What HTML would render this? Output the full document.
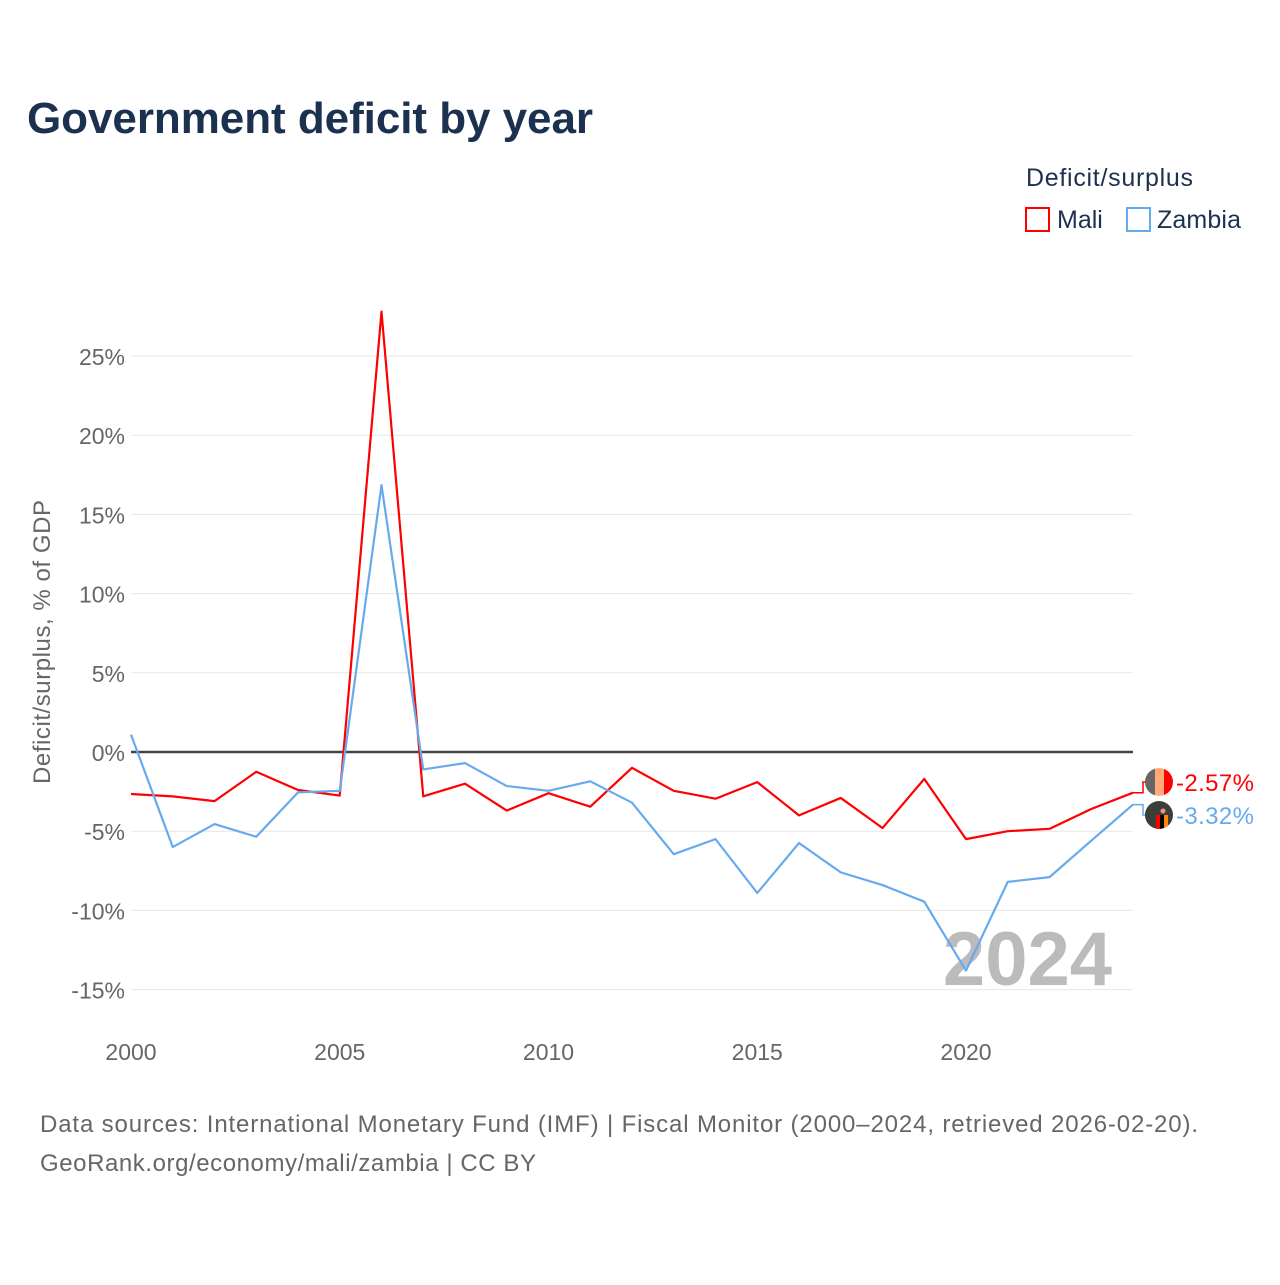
<!DOCTYPE html>
<html><head><meta charset="utf-8">
<style>
body{margin:0;background:#fff;font-family:"Liberation Sans",sans-serif}
svg text{font-family:"Liberation Sans",sans-serif}
</style></head><body>
<svg id="chart" width="1280" height="1280" viewBox="0 0 1280 1280" xmlns="http://www.w3.org/2000/svg">
<text x="27" y="133" font-size="44" font-weight="bold" fill="#1c3150" textLength="566">Government deficit by year</text>
<text x="1026" y="186" font-size="25" fill="#1c3150" textLength="167">Deficit/surplus</text>
<g><rect x="1026" y="208" width="23" height="23" fill="none" stroke="#ff0000" stroke-width="2"/><text x="1057" y="228" font-size="25" fill="#1c3150">Mali</text></g>
<g><rect x="1127" y="208" width="23" height="23" fill="none" stroke="#66aaee" stroke-width="2"/><text x="1157" y="228" font-size="25" fill="#1c3150" textLength="84">Zambia</text></g>
<text transform="translate(50,642) rotate(-90)" text-anchor="middle" font-size="24" fill="#666" textLength="284">Deficit/surplus, % of GDP</text>
<g id="grid"></g>
<text x="1112" y="985" text-anchor="end" font-size="76" font-weight="bold" fill="#bbbbbb">2024</text>
<g id="series"></g>
<g font-size="24" fill="#666">
<text x="40" y="1132" textLength="1158">Data sources: International Monetary Fund (IMF) | Fiscal Monitor (2000–2024, retrieved 2026-02-20).</text>
<text x="40" y="1171" textLength="496">GeoRank.org/economy/mali/zambia | CC BY</text>
</g>
</svg>
<script>
const years=[2000,2001,2002,2003,2004,2005,2006,2007,2008,2009,2010,2011,2012,2013,2014,2015,2016,2017,2018,2019,2020,2021,2022,2023,2024];
const mali=[-2.65,-2.8,-3.1,-1.25,-2.4,-2.75,27.8,-2.8,-2.0,-3.7,-2.6,-3.45,-1.0,-2.45,-2.95,-1.9,-4.0,-2.9,-4.8,-1.7,-5.5,-5.0,-4.85,-3.6,-2.57];
const zambia=[1.1,-6.0,-4.55,-5.35,-2.55,-2.45,16.85,-1.1,-0.7,-2.15,-2.45,-1.85,-3.2,-6.45,-5.5,-8.9,-5.75,-7.6,-8.4,-9.45,-13.8,-8.2,-7.9,-5.6,-3.32];
const yTicks=[-15,-10,-5,0,5,10,15,20,25];
const xTicks=[2000,2005,2010,2015,2020];
const NS="http://www.w3.org/2000/svg";
const X=y=>131+(y-2000)*(1133-131)/24;
const Y=v=>752-v*(752-356)/25;
const grid=document.getElementById('grid'),ser=document.getElementById('series');
function mk(tag,attrs,parent){const e=document.createElementNS(NS,tag);for(const k in attrs)e.setAttribute(k,attrs[k]);parent.appendChild(e);return e;}
yTicks.forEach(t=>{
  const l=mk('line',{x1:131,x2:1133,y1:Y(t),y2:Y(t),stroke:t===0?'#444':'#e6e6e6','stroke-width':t===0?2.5:1},grid);
  
  
  const tx=mk('text',{x:125,y:Y(t)+9,'text-anchor':'end','font-size':23,fill:'#666'},grid);
  
  
  tx.textContent=t+'%';
});
xTicks.forEach(t=>{
  const tx=mk('text',{x:X(t),y:1060,'text-anchor':'middle','font-size':23,fill:'#666'},grid);
  
  
  tx.textContent=t;
});
function line(vals,color,name){
  const p=mk('polyline',{points:vals.map((v,i)=>X(years[i])+','+Y(v)).join(' '),fill:'none',stroke:color,'stroke-width':2.2,'stroke-linejoin':'round'},ser);
  
  
}
line(mali,'#ff0000','mali-line');
line(zambia,'#66aaee','zambia-line');
const lm=mali[mali.length-1],lz=zambia[zambia.length-1];
const ym=782,yz=815,xe=X(2024);
function endLabel(v,ly,color,name,flag){
  const c=mk('polyline',{points:`${xe},${Y(v)} ${xe+10},${Y(v)} ${xe+10},${ly} ${xe+14},${ly}`,fill:'none',stroke:color,'stroke-width':1.5},ser);
  
  
  const g=mk('g',{},ser);
  
  
  flag(g,xe+26,ly);
  const t=mk('text',{x:xe+43,y:ly+9,'font-size':24,fill:color,textLength:78},ser);
  
  
  t.textContent=v.toFixed(2)+'%';
}
endLabel(lm,ym,'#ff0000','mali',(g,cx,cy)=>{
  mk('clipPath',{id:'cm'},g);
  mk('circle',{cx,cy,r:14},g.lastChild);
  const h=mk('g',{'clip-path':'url(#cm)'},g);
  mk('rect',{x:cx-14,y:cy-14,width:10,height:28,fill:'#666'},h);
  mk('rect',{x:cx-4,y:cy-14,width:9,height:28,fill:'#ffaa77'},h);
  mk('rect',{x:cx+5,y:cy-14,width:10,height:28,fill:'#ff0000'},h);
});
endLabel(lz,yz,'#66aaee','zambia',(g,cx,cy)=>{
  mk('clipPath',{id:'cz'},g);
  mk('circle',{cx,cy,r:14},g.lastChild);
  const h=mk('g',{'clip-path':'url(#cz)'},g);
  mk('rect',{x:cx-14,y:cy-14,width:28,height:28,fill:'#3a4038'},h);
  mk('rect',{x:cx-3,y:cy,width:4,height:14,fill:'#ff0000'},h);
  mk('rect',{x:cx+1,y:cy,width:4,height:14,fill:'#000'},h);
  mk('rect',{x:cx+5,y:cy,width:4,height:14,fill:'#ff8800'},h);
  mk('circle',{cx:cx+4,cy:cy-4,r:2.5,fill:'#ff8888'},h);
});
</script>
</body></html>
